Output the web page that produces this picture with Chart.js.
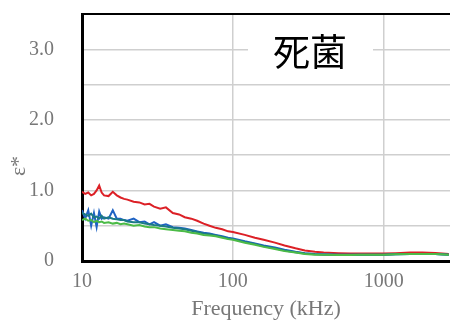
<!DOCTYPE html>
<html>
<head>
<meta charset="utf-8">
<script src="https://cdn.jsdelivr.net/npm/chart.js@4/dist/chart.umd.min.js"></script>
<style>
  html, body { margin: 0; padding: 0; background: #fff; }
  #wrap { width: 450px; height: 322px; }
</style>
</head>
<body>
<div id="wrap"><canvas id="chart" width="450" height="322"></canvas></div>
<script>
// frequencies (kHz)
const freqs = [10, 10.5, 11, 11.5, 12, 12.5, 13, 13.5, 14, 15, 16, 17, 18, 19, 20, 22, 24, 26, 28, 30,
  33, 36, 40, 44, 48, 53, 58, 64, 70, 77, 85, 93, 100, 120, 140, 160, 190, 220, 260, 300,
  350, 400, 500, 600, 700, 800, 1000, 1200, 1500, 1800, 2200, 2700];

const redVals = [0.98, 0.95, 0.97, 0.93, 0.95, 1.0, 1.07, 0.97, 0.93, 0.92, 0.98, 0.93, 0.9, 0.88, 0.87, 0.84, 0.83, 0.8, 0.81, 0.77,
  0.74, 0.76, 0.68, 0.66, 0.62, 0.6, 0.57, 0.53, 0.5, 0.47, 0.45, 0.42, 0.41, 0.37, 0.33, 0.3, 0.26, 0.22, 0.18, 0.15,
  0.13, 0.12, 0.11, 0.105, 0.105, 0.105, 0.105, 0.11, 0.12, 0.12, 0.115, 0.1];

const blueVals = [0.72, 0.6, 0.72, 0.5, 0.68, 0.48, 0.7, 0.6, 0.62, 0.6, 0.72, 0.6, 0.6, 0.58, 0.57, 0.6, 0.55, 0.56, 0.52, 0.55,
  0.5, 0.52, 0.48, 0.47, 0.46, 0.44, 0.42, 0.4, 0.39, 0.37, 0.35, 0.33, 0.32, 0.28, 0.25, 0.22, 0.19, 0.16, 0.13, 0.11,
  0.1, 0.095, 0.09, 0.09, 0.09, 0.09, 0.09, 0.095, 0.1, 0.1, 0.1, 0.09];

const tealVals = [0.68, 0.66, 0.64, 0.67, 0.62, 0.63, 0.6, 0.64, 0.6, 0.62, 0.6, 0.59, 0.58, 0.58, 0.56, 0.55, 0.55, 0.53, 0.52, 0.51,
  0.5, 0.49, 0.47, 0.46, 0.45, 0.43, 0.41, 0.39, 0.38, 0.36, 0.34, 0.32, 0.31, 0.27, 0.24, 0.21, 0.18, 0.15, 0.125, 0.105,
  0.095, 0.09, 0.09, 0.09, 0.09, 0.09, 0.09, 0.095, 0.1, 0.1, 0.1, 0.09];

const greenVals = [0.58, 0.6, 0.57, 0.58, 0.55, 0.57, 0.55, 0.56, 0.54, 0.55, 0.53, 0.54, 0.52, 0.53, 0.52, 0.5, 0.51, 0.49, 0.48, 0.48,
  0.46, 0.45, 0.44, 0.43, 0.42, 0.4, 0.39, 0.37, 0.36, 0.35, 0.33, 0.31, 0.3, 0.26, 0.23, 0.2, 0.17, 0.14, 0.12, 0.1,
  0.09, 0.09, 0.085, 0.085, 0.09, 0.09, 0.09, 0.095, 0.1, 0.1, 0.1, 0.09];

const xTicks = [10, 100, 1000];
const yLabels = { 0: '0', 1: '1.0', 2: '2.0', 3: '3.0' };
const titleText = '死菌';
const yTitle = 'ε*';

function pts(vals) {
  return freqs.map((f, i) => ({ x: f, y: vals[i] }));
}

// white box with the big title, y title, and the black frame on top
const overlay = {
  id: 'overlay',
  afterDraw(chart) {
    const ctx = chart.ctx;
    const a = chart.chartArea;
    ctx.save();
    ctx.fillStyle = '#fff';
    ctx.fillRect(248, 17, 125, 64);
    ctx.fillStyle = '#000';
    ctx.font = '37px "Noto Sans CJK JP"';
    ctx.textAlign = 'center';
    ctx.textBaseline = 'middle';
    ctx.fillText(titleText, 310, 52);

    ctx.translate(19, 166);
    ctx.rotate(-Math.PI / 2);
    ctx.fillStyle = '#777';
    ctx.font = '22px "Liberation Serif"';
    ctx.fillText(yTitle, 0, 0);
    ctx.setTransform(1, 0, 0, 1, 0, 0);

    ctx.strokeStyle = '#000';
    ctx.lineWidth = 2;
    ctx.beginPath();
    ctx.moveTo(a.left, a.top);
    ctx.lineTo(a.right, a.top);
    ctx.stroke();
    ctx.restore();
  }
};

new Chart(document.getElementById('chart'), {
  type: 'line',
  data: {
    datasets: [
      { data: pts(greenVals), borderColor: '#4cbb47', borderWidth: 2, pointRadius: 0 },
      { data: pts(tealVals), borderColor: '#1b7a84', borderWidth: 2, pointRadius: 0 },
      { data: pts(blueVals), borderColor: '#1f63c4', borderWidth: 2, pointRadius: 0 },
      { data: pts(redVals), borderColor: '#dc2026', borderWidth: 2, pointRadius: 0 }
    ]
  },
  options: {
    responsive: false,
    animation: false,
    layout: { padding: { top: 14, right: 0, left: 0, bottom: 0 } },
    plugins: { legend: { display: false }, tooltip: { enabled: false } },
    scales: {
      x: {
        type: 'logarithmic',
        min: 10,
        max: 2750,
        afterBuildTicks: s => { s.ticks = xTicks.map(v => ({ value: v })); },
        afterFit: s => { s.height = 61; s.paddingRight = 0; },
        ticks: {
          autoSkip: false,
          maxRotation: 0,
          padding: 9,
          color: '#777',
          font: { family: '"Liberation Serif"', size: 20 },
          callback: v => String(v)
        },
        grid: { color: '#cfcfcf', lineWidth: 1.5, drawTicks: false },
        border: { color: '#000', width: 3 },
        title: {
          display: true,
          text: 'Frequency (kHz)',
          color: '#777',
          font: { family: '"Liberation Serif"', size: 22 },
          padding: { top: 0, bottom: 0 }
        }
      },
      y: {
        min: 0,
        max: 3.5,
        afterFit: s => { s.width = 82; s.paddingTop = 0; s.paddingBottom = 0; },
        ticks: {
          stepSize: 0.5,
          padding: 28,
          color: '#777',
          font: { family: '"Liberation Serif"', size: 20 },
          callback: v => (yLabels[v] !== undefined ? yLabels[v] : '')
        },
        grid: { color: '#cfcfcf', lineWidth: 1.5, drawTicks: false },
        border: { color: '#000', width: 3 }
      }
    }
  },
  plugins: [overlay]
});
</script>
</body>
</html>
